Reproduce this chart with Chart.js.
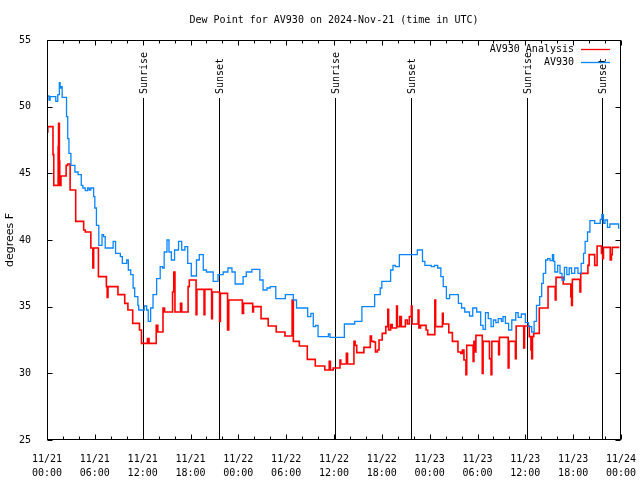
<!DOCTYPE html>
<html>
<head>
<meta charset="utf-8">
<script src="https://cdn.jsdelivr.net/npm/chart.js@4/dist/chart.umd.min.js"></script>
<style>
  html, body { margin: 0; padding: 0; background: #fff; }
</style>
</head>
<body>
<canvas id="dewChart" width="640" height="480"></canvas>
<script>
// hours since 2024-11-21 00:00 UTC
const analysisHours = [
  0, 0.1, 0.75, 0.85, 1.4, 1.45, 1.55, 1.6, 1.75, 2.4, 2.6, 2.9, 3.6, 4.6, 4.8, 5.5, 5.75, 5.85,
  6.45, 7.45, 7.55, 7.65, 8.9, 9.75, 10.15, 10.75, 11.6, 11.85, 12.6, 12.8, 13.7, 13.9, 14.55, 14.75,
  15.75, 15.9, 16.05, 16.75, 16.9, 17.7, 17.85, 18.7, 18.8, 19.7, 19.8, 20.65, 20.75, 21.65, 21.75,
  22.65, 22.8, 24.5, 24.65, 25.8, 25.9, 26.85, 27.75, 28.75, 29.85, 30.75, 30.9, 31.65, 32.65, 33.65,
  34.85, 35.4, 35.55, 35.9, 36.75, 36.85, 37.55, 37.7, 38.5, 38.65, 38.85, 39.75, 40.55, 40.7, 41.0,
  41.2, 41.45, 41.65, 42.05, 42.5, 42.75, 42.85, 43.1, 43.3, 43.85, 43.95, 44.25, 44.45, 44.95, 45.2,
  45.45, 45.7, 45.8, 46.55, 46.65, 46.85, 47.55, 47.75, 48.65, 48.75, 49.6, 49.7, 50.4, 50.85, 51.55,
  51.9, 52.1, 52.3, 52.55, 52.65, 53.45, 53.55, 53.7, 53.8, 54.6, 54.7, 55.5, 55.7, 55.8, 56.65,
  56.75, 57.85, 57.95, 58.75, 58.85, 59.8, 59.9, 60.5, 60.7, 60.8, 60.9, 61.05, 61.75, 62.85, 63.75,
  63.85, 64.75, 65.7, 65.8, 65.9, 66.85, 66.95, 67.85, 68.0, 68.7, 69.0, 69.55, 69.7, 69.8, 70.65,
  70.8, 70.9, 71.8
];
const analysisValues = [
  48.1, 48.5, 46.4, 44.1, 47.0, 48.75, 45.9, 44.1, 44.8, 45.6, 45.7, 43.75, 41.4, 40.75, 40.6, 39.4, 37.9, 39.4,
  37.25, 36.5, 35.7, 36.5, 35.9, 35.25, 34.75, 33.75, 33.25, 32.25, 32.6, 32.25, 33.6, 33.1, 34.9, 34.6,
  36.1, 37.6, 34.6, 35.25, 34.6, 36.5, 37.0, 34.4, 36.3, 34.4, 36.3, 34.1, 36.1, 33.9, 36.0,
  33.25, 35.5, 34.5, 35.25, 34.6, 35.0, 34.1, 33.55, 33.1, 32.8, 35.5, 32.4, 32.05, 31.05, 30.55,
  30.25, 30.9, 30.25, 30.4, 31.0, 30.7, 31.5, 30.7, 32.4, 32.1, 31.55, 31.95, 32.8, 32.4, 32.35,
  31.6, 31.75, 32.5, 33.0, 33.5, 34.8, 33.25, 33.65, 33.4, 35.05, 33.5, 34.25, 33.5, 34.0, 33.7,
  34.25, 35.05, 33.7, 34.75, 33.4, 33.6, 33.25, 32.9, 35.5, 33.5, 34.5, 33.7, 33.05, 32.4, 31.6,
  31.5, 31.75, 31.0, 29.9, 32.1, 30.9, 32.4, 31.6, 32.85, 30.0, 32.4, 31.1, 29.9, 32.4, 31.4,
  32.7, 30.4, 32.4, 31.1, 33.55, 31.9, 33.55, 32.75, 31.75, 31.1, 32.75, 33.0, 34.9, 36.5, 35.5,
  37.2, 36.7, 35.75, 35.1, 37.05, 36.1, 37.5, 38.1, 38.9, 38.1, 39.55, 39.0, 38.6, 39.45, 38.5,
  38.9, 39.45, 39.45
];

const av930Hours = [
  0, 0.25, 0.4, 1.1, 1.35, 1.55, 1.65, 1.75, 1.9, 2.45, 2.6, 2.75, 3.0, 3.5, 3.9, 4.3, 4.5, 4.8, 5.1,
  5.3, 5.5, 5.85, 6.0, 6.2, 6.5, 6.9, 7.1, 7.3, 8.3, 8.6, 9.2, 9.45, 10.0, 10.2, 10.5, 10.8, 11.0, 11.4,
  11.5, 12.2, 12.5, 12.7, 13.0, 13.3, 13.75, 14.2, 14.5, 14.7, 15.05, 15.3, 15.6, 16.0, 16.5, 16.9,
  17.3, 17.65, 18.1, 18.75, 19.1, 19.6, 20.0, 20.85, 21.45, 22.1, 22.7, 23.2, 23.6, 24.6, 25.0, 25.7,
  26.7, 27.1, 27.6, 28.0, 28.7, 29.9, 30.9, 31.3, 32.7, 33.1, 33.4, 33.7, 34.0, 35.3, 35.5, 37.3,
  38.6, 39.5, 41.1, 41.8, 42.0, 43.1, 43.4, 43.7, 44.2, 46.45, 47.1, 47.4, 48.2, 48.6, 49.0, 49.4,
  49.7, 50.1, 50.5, 51.6, 52.0, 52.4, 53.0, 53.4, 53.9, 54.4, 54.7, 55.0, 55.35, 55.7, 56.0, 56.3,
  56.6, 57.0, 57.2, 57.5, 57.9, 58.3, 58.8, 59.1, 59.5, 60.0, 60.4, 60.8, 61.1, 61.4, 61.8, 62.05,
  62.25, 62.55, 62.8, 63.1, 63.4, 63.55, 63.7, 64.05, 64.35, 64.6, 64.9, 65.2, 65.5, 65.8, 66.2,
  66.6, 67.0, 67.3, 67.5, 67.8, 68.1, 68.7, 69.4, 69.6, 69.8, 70.0, 70.3, 70.6, 71.7, 71.8
];
const av930Values = [
  50.8, 50.5, 50.75, 50.4, 50.9, 51.8, 51.4, 51.5, 50.7, 49.25, 47.6, 46.5, 45.6, 45.1, 44.9, 44.1, 43.9, 43.7, 43.9,
  43.75, 43.9, 43.25, 42.4, 41.1, 39.6, 40.4, 40.25, 39.4, 39.9, 39.0, 38.75, 38.25, 38.5, 37.75, 37.4, 36.4, 35.75, 35.1,
  34.75, 35.05, 34.75, 33.9, 34.9, 35.9, 37.1, 38.0, 37.9, 39.1, 40.0, 39.1, 38.5, 39.25, 39.9, 39.25,
  39.5, 38.25, 37.3, 38.5, 38.9, 37.75, 37.6, 36.9, 37.4, 37.6, 37.9, 37.6, 36.7, 37.25, 37.6, 37.8,
  37.0, 36.25, 36.4, 36.5, 35.6, 35.9, 35.5, 34.9, 34.25, 34.5, 33.5, 33.6, 32.75, 32.95, 32.7, 33.7,
  33.9, 35.0, 35.9, 36.4, 36.9, 37.75, 38.1, 38.0, 38.9, 39.25, 38.4, 38.1, 38.0, 38.1, 37.9, 37.25,
  36.5, 35.6, 35.9, 35.25, 34.9, 34.6, 34.3, 34.9, 34.6, 33.6, 33.3, 34.55, 34.1, 33.5, 34.0, 33.8,
  34.1, 33.9, 34.25, 33.75, 33.25, 34.0, 34.55, 34.2, 34.45, 33.8, 33.5, 33.1, 33.9, 35.1, 35.75, 36.75,
  37.5, 38.5, 38.6, 38.45, 38.9, 38.4, 37.6, 38.1, 37.5, 37.0, 37.95, 37.4, 37.9, 37.5, 37.9,
  37.5, 38.25, 39.0, 39.9, 40.6, 41.45, 41.25, 41.55, 41.9, 41.25, 41.5, 40.95, 41.2, 40.9, 40.9
];

const eventHours = [12.08, 21.6, 36.13, 45.6, 60.2, 69.66];
const eventLabels = ['Sunrise', 'Sunset', 'Sunrise', 'Sunset', 'Sunrise', 'Sunset'];

const xTickDates = ['11/21', '11/21', '11/21', '11/21', '11/22', '11/22', '11/22', '11/22', '11/23', '11/23', '11/23', '11/23', '11/24'];
const xTickTimes = ['00:00', '06:00', '12:00', '18:00', '00:00', '06:00', '12:00', '18:00', '00:00', '06:00', '12:00', '18:00', '00:00'];

const TITLE = 'Dew Point for AV930 on 2024-Nov-21 (time in UTC)';
const MONO = '"DejaVu Sans Mono", monospace';
const RED = '#ff0000';
const BLUE = '#0a84ff';

function toPoints(hours, values) {
  return hours.map((h, i) => ({ x: h, y: values[i] }));
}

const decor = {
  id: 'decor',
  beforeDatasetsDraw(chart) {
    const { ctx, chartArea: a, scales: { x } } = chart;
    ctx.save();
    ctx.strokeStyle = '#000';
    ctx.lineWidth = 1;
    ctx.fillStyle = '#000';
    ctx.font = '10px ' + MONO;
    eventHours.forEach((h, i) => {
      const px = Math.round(x.getPixelForValue(h)) + 0.5;
      ctx.beginPath();
      ctx.moveTo(px, a.top + 58);
      ctx.lineTo(px, a.bottom);
      ctx.stroke();
      ctx.save();
      ctx.translate(px + 1, a.top + 54);
      ctx.rotate(-Math.PI / 2);
      ctx.textAlign = 'left';
      ctx.textBaseline = 'middle';
      ctx.fillText(eventLabels[i], 0, 0);
      ctx.restore();
    });
    ctx.restore();
  },
  afterDraw(chart) {
    const { ctx, chartArea: a, scales: { x, y } } = chart;
    const L = Math.round(a.left) + 0.5, R = Math.round(a.right) - 0.5;
    const T = Math.round(a.top) + 0.5, B = Math.round(a.bottom) - 0.5;
    ctx.save();
    ctx.strokeStyle = '#000';
    ctx.lineWidth = 1;
    ctx.strokeRect(L, T, R - L, B - T);

    // x ticks, every 2 h, bigger every 6 h, on top and bottom
    ctx.beginPath();
    for (let h = 0; h <= 72; h += 2) {
      const px = Math.round(x.getPixelForValue(h)) + 0.5;
      const len = h % 6 === 0 ? 5 : 3;
      ctx.moveTo(px, B); ctx.lineTo(px, B - len);
      ctx.moveTo(px, T); ctx.lineTo(px, T + len);
    }
    for (let v = 25; v <= 55; v += 5) {
      const py = Math.round(y.getPixelForValue(v)) + 0.5;
      ctx.moveTo(L, py); ctx.lineTo(L + 5, py);
      ctx.moveTo(R, py); ctx.lineTo(R - 5, py);
    }
    ctx.stroke();

    // title
    ctx.fillStyle = '#000';
    ctx.font = '10px ' + MONO;
    ctx.textAlign = 'center';
    ctx.textBaseline = 'middle';
    ctx.fillText(TITLE, (a.left + a.right) / 2, 20.5);

    // legend, top right inside the plot
    const items = [['AV930 Analysis', RED], ['AV930', BLUE]];
    items.forEach(([label, color], i) => {
      const ly = a.top + 9.5 + i * 13;
      ctx.textAlign = 'right';
      ctx.fillStyle = '#000';
      ctx.fillText(label, a.right - 47, ly);
      ctx.strokeStyle = color;
      ctx.lineWidth = 1.3;
      ctx.beginPath();
      ctx.moveTo(a.right - 40, ly);
      ctx.lineTo(a.right - 11, ly);
      ctx.stroke();
    });
    ctx.restore();
  }
};

const ctx = document.getElementById('dewChart').getContext('2d');
new Chart(ctx, {
  type: 'line',
  data: {
    datasets: [
      {
        label: 'AV930 Analysis',
        data: toPoints(analysisHours, analysisValues),
        borderColor: RED,
        borderWidth: 1.6,
        pointRadius: 0,
        stepped: true,
        fill: false,
        order: 1
      },
      {
        label: 'AV930',
        data: toPoints(av930Hours, av930Values),
        borderColor: BLUE,
        borderWidth: 1.3,
        pointRadius: 0,
        stepped: true,
        fill: false,
        order: 0
      }
    ]
  },
  options: {
    responsive: false,
    animation: false,
    devicePixelRatio: 1,
    layout: { padding: { top: 40, right: 19, left: 0, bottom: 0 } },
    plugins: {
      legend: { display: false },
      title: { display: false },
      tooltip: { enabled: false }
    },
    scales: {
      x: {
        type: 'linear',
        min: 0,
        max: 72,
        grid: { display: false },
        border: { display: false },
        ticks: {
          stepSize: 6,
          autoSkip: false,
          maxRotation: 0,
          padding: 4,
          color: '#000',
          font: { family: MONO, size: 10, lineHeight: 1.45 },
          callback: v => [xTickDates[v / 6], xTickTimes[v / 6]]
        },
        afterFit: s => {
          s.height = 40;
          s.paddingLeft = 0;
          s.paddingRight = 0;
        }
      },
      y: {
        min: 25,
        max: 55,
        grid: { display: false },
        border: { display: false },
        ticks: {
          stepSize: 5,
          padding: 8,
          color: '#000',
          font: { family: MONO, size: 10 }
        },
        title: {
          display: true,
          text: 'degrees F',
          color: '#000',
          font: { family: '"DejaVu Sans", sans-serif', size: 11 }
        },
        afterFit: s => {
          s.width = 47;
          s.paddingTop = 0;
          s.paddingBottom = 0;
        }
      }
    }
  },
  plugins: [decor]
});
</script>
</body>
</html>
